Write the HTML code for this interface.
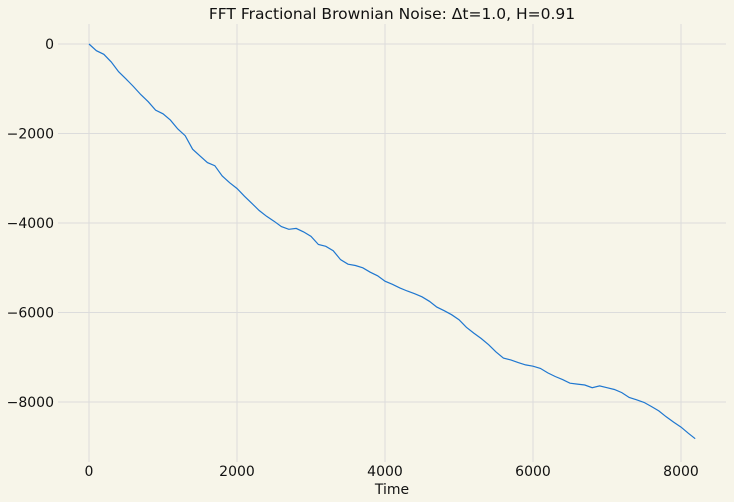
<!DOCTYPE html>
<html><head><meta charset="utf-8"><style>
body{margin:0;background:#f7f5e9;}
svg{display:block;font-family:"DejaVu Sans","Liberation Sans",sans-serif;}
</style></head><body>
<svg id="chart" width="734" height="502">
<rect width="734" height="502" fill="#f7f5e9"/>
<text x="392" y="19" text-anchor="middle" font-size="15.5" fill="#111">FFT Fractional Brownian Noise: Δt=1.0, H=0.91</text>
<text x="392" y="494" text-anchor="middle" font-size="14" fill="#111">Time</text>
<g id="grid"></g><g id="ticks"></g><g id="series"></g>
</svg>
<script>
const times=[0,100,200,300,400,500,600,700,800,900,1000,1100,1200,1300,1400,1500,1600,1700,1800,1900,2000,2100,2200,2300,2400,2500,2600,2700,2800,2900,3000,3100,3200,3300,3400,3500,3600,3700,3800,3900,4000,4100,4200,4300,4400,4500,4600,4700,4800,4900,5000,5100,5200,5300,5400,5500,5600,5700,5800,5900,6000,6100,6200,6300,6400,6500,6600,6700,6800,6900,7000,7100,7200,7300,7400,7500,7600,7700,7800,7900,8000,8100,8192];
const values=[0,-150,-230,-400,-620,-780,-950,-1130,-1290,-1480,-1560,-1700,-1900,-2050,-2350,-2500,-2650,-2720,-2950,-3100,-3230,-3400,-3560,-3720,-3850,-3960,-4080,-4140,-4120,-4200,-4300,-4480,-4520,-4620,-4820,-4920,-4950,-5000,-5100,-5180,-5300,-5370,-5450,-5520,-5580,-5650,-5750,-5880,-5960,-6050,-6160,-6330,-6460,-6580,-6720,-6880,-7020,-7060,-7120,-7170,-7200,-7250,-7350,-7430,-7500,-7580,-7600,-7620,-7680,-7640,-7680,-7720,-7790,-7900,-7950,-8010,-8100,-8200,-8330,-8450,-8560,-8700,-8820];
const xTicks=[0,2000,4000,6000,8000];
const yTicks=[0,-2000,-4000,-6000,-8000];
const xs=t=>89+t*0.074;
const ys=v=>44-v*0.04475;
const NS='http://www.w3.org/2000/svg';
const grid=document.getElementById('grid'),ticks=document.getElementById('ticks'),series=document.getElementById('series');
function mk(tag,attrs,parent){const e=document.createElementNS(NS,tag);for(const k in attrs)e.setAttribute(k,attrs[k]);parent.appendChild(e);return e;}
xTicks.forEach(t=>{
 const l=mk('line',{x1:xs(t),x2:xs(t),y1:24,y2:462,stroke:'#dcdcdc','stroke-width':1},grid);
 
 
 const tx=mk('text',{x:xs(t),y:476,'text-anchor':'middle','font-size':14,fill:'#111'},ticks);
 tx.textContent=t;
 
 
});
yTicks.forEach(v=>{
 const l=mk('line',{x1:58,x2:726,y1:ys(v),y2:ys(v),stroke:'#dcdcdc','stroke-width':1},grid);
 
 
 const tx=mk('text',{x:54,y:ys(v)+5,'text-anchor':'end','font-size':14,fill:'#111'},ticks);
 tx.textContent=v<0?'\u2212'+Math.abs(v):String(v);
 
 
});
const d=times.map((t,i)=>(i?'L':'M')+xs(t).toFixed(1)+','+ys(values[i]).toFixed(1)).join(' ');
const p=mk('path',{d:d,fill:'none',stroke:'#1f77d0','stroke-width':1.2},series);


</script>
</body></html>
